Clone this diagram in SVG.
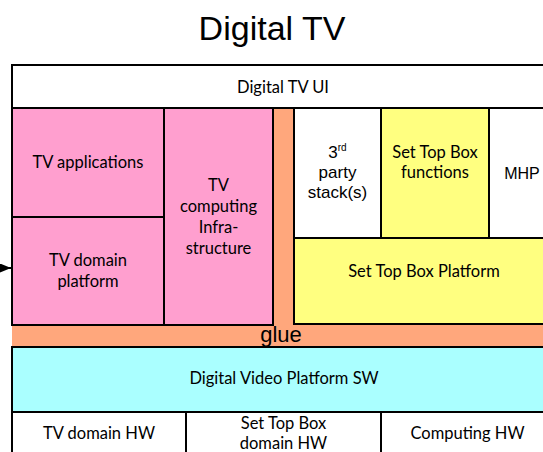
<svg xmlns="http://www.w3.org/2000/svg" width="543" height="452" viewBox="0 0 543 452">
<defs>
<style>
.b{stroke:#000;stroke-width:2}
.w{fill:#fff}
.p{fill:#FF9FCF}
.o{fill:#FFA77C}
.y{fill:#FFFF80}
.c{fill:#AAFFFF}
.t{font-family:Lato,"Liberation Sans",sans-serif;font-size:16.5px;fill:#000;text-anchor:middle}
.a{font-family:"Liberation Sans",Arial,sans-serif;fill:#000;text-anchor:middle}
</style>
<marker id="ah" markerWidth="11" markerHeight="9" refX="11" refY="4.5" orient="auto" markerUnits="userSpaceOnUse">
<path d="M0,0 L11,4.5 L0,9 Z" fill="#000"/>
</marker>
</defs>
<rect width="543" height="452" fill="#fff"/>
<text class="a" x="272" y="40" font-size="34">Digital TV</text>
<g id="glue">
<path class="o" d="M273,108 H294 V325 H560 V347 H12 V325 H273 Z"/>
<text class="a" x="281" y="342" font-size="22">glue</text>
</g>
<g id="ui">
<rect class="w b" x="12" y="65" width="550" height="43"/>
<text class="t" x="283" y="93">Digital TV UI</text>
</g>
<g id="tv-applications">
<rect class="p b" x="12" y="108" width="152" height="109"/>
<text class="t" x="88" y="168">TV applications</text>
</g>
<g id="tv-domain-platform">
<rect class="p b" x="12" y="217" width="152" height="108"/>
<text class="t" x="88" y="266">TV domain</text>
<text class="t" x="88" y="287">platform</text>
</g>
<g id="tv-computing">
<rect class="p b" x="164" y="108" width="109" height="217"/>
<text class="t" x="218.5" y="191">TV</text>
<text class="t" x="218.5" y="212">computing</text>
<text class="t" x="218.5" y="233">Infra-</text>
<text class="t" x="218.5" y="254">structure</text>
</g>
<g id="third-party">
<rect class="w b" x="294" y="108" width="87" height="130"/>
<text class="a" x="337.5" y="158" font-size="17">3<tspan font-size="10" dy="-7">rd</tspan></text>
<text class="a" x="337.5" y="178" font-size="17">party</text>
<text class="a" x="337.5" y="198" font-size="17">stack(s)</text>
</g>
<g id="stb-functions">
<rect class="y b" x="381" y="108" width="108" height="130"/>
<text class="t" x="435" y="158">Set Top Box</text>
<text class="t" x="435" y="178">functions</text>
</g>
<g id="mhp">
<rect class="w b" x="489" y="108" width="70" height="130"/>
<text class="a" x="522" y="179" font-size="16">MHP</text>
</g>
<g id="stb-platform">
<rect class="y b" x="294" y="238" width="265" height="86"/>
<text class="t" x="424" y="277">Set Top Box Platform</text>
</g>
<g id="dvp-sw">
<rect class="c b" x="12" y="347" width="550" height="65"/>
<text class="t" x="284" y="384">Digital Video Platform SW</text>
</g>
<g id="tv-domain-hw">
<rect class="w b" x="12" y="412" width="174" height="50"/>
<text class="t" x="99" y="439">TV domain HW</text>
</g>
<g id="stb-domain-hw">
<rect class="w b" x="186" y="412" width="195" height="50"/>
<text class="t" x="283.5" y="429">Set Top Box</text>
<text class="t" x="283.5" y="449">domain HW</text>
</g>
<g id="computing-hw">
<rect class="w b" x="381" y="412" width="180" height="50"/>
<text class="t" x="467.5" y="439">Computing HW</text>
</g>
<g id="connectors">
<line x1="-10" y1="268" x2="11" y2="268" stroke="#000" stroke-width="2" marker-end="url(#ah)"/>
</g>
</svg>
